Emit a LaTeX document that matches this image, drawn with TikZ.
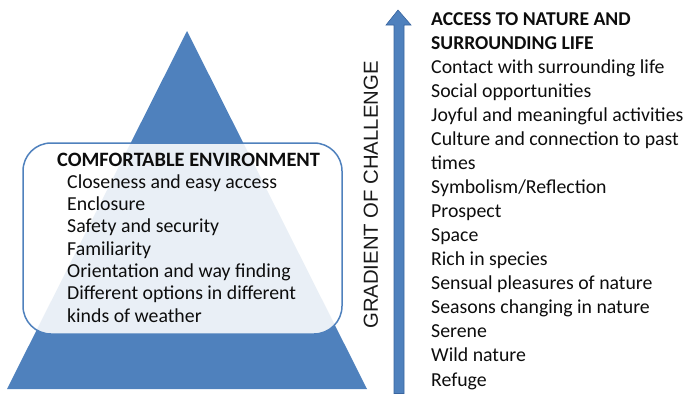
\documentclass[tikz,border=0pt]{standalone}
\usepackage{fontspec}
\setmainfont{Carlito}
\newfontfamily\gradfont{Liberation Sans}
\definecolor{tblue}{HTML}{4F81BD}
\definecolor{tdark}{HTML}{3A66A0}
\begin{document}
\begin{tikzpicture}[x=1pt,y=-1pt,
  txt/.style={anchor=base west,inner sep=0pt,font=\fontsize{19.8}{22}\selectfont,text=black!95},
  hdr/.style={txt,font=\fontsize{19.6}{22}\selectfont\bfseries}]
\useasboundingbox (0,0) rectangle (690,394);
% pyramid
\coordinate (pl) at (7,389);
\coordinate (pt) at (187,31);
\coordinate (pr) at (367,389);
\fill[tblue] (pl) -- (pt) -- (pr) -- cycle;
% comfortable box
\draw[tblue,line width=1.5pt,fill=white,fill opacity=0.88,rounded corners=28pt]
  (23,143) rectangle (342,334);
\node[hdr,font=\fontsize{20.4}{22}\selectfont\bfseries] (lh) at (57,166) {COMFORTABLE ENVIRONMENT};
\foreach \t [count=\i] in {Closeness and easy access,Enclosure,Safety and security,Familiarity,Orientation and way finding,Different options in different,kinds of weather}
  \node[txt] (l\i) at (67,166+\i*22.3) {\t};
% arrow
\coordinate (atop) at (398,10);
\fill[tblue,draw=tdark,line width=0.6pt]
  (394,393.5) -- (394,25) -- (386,25) -- (atop) -- (411,25) -- (404,25) -- (404,393.5) -- cycle;
\node[inner sep=0pt,rotate=90,font=\gradfont\fontsize{20.3}{21}\selectfont,text=black!90] (grad) at (371,195) {GRADIENT OF CHALLENGE};
% right list
\node[hdr] (r1) at (431,25) {ACCESS TO NATURE AND};
\node[hdr] (r2) at (431,49.1) {SURROUNDING LIFE};
\foreach \t [count=\i from 3] in {Contact with surrounding life,Social opportunities,Joyful and meaningful activities,Culture and connection to past,times,Symbolism/Reflection,Prospect,Space,Rich in species,Sensual pleasures of nature,Seasons changing in nature,Serene,Wild nature,Refuge}
  \node[txt] (r\i) at (431,25+\i*24.07-24.07) {\t};
\end{tikzpicture}
\end{document}
